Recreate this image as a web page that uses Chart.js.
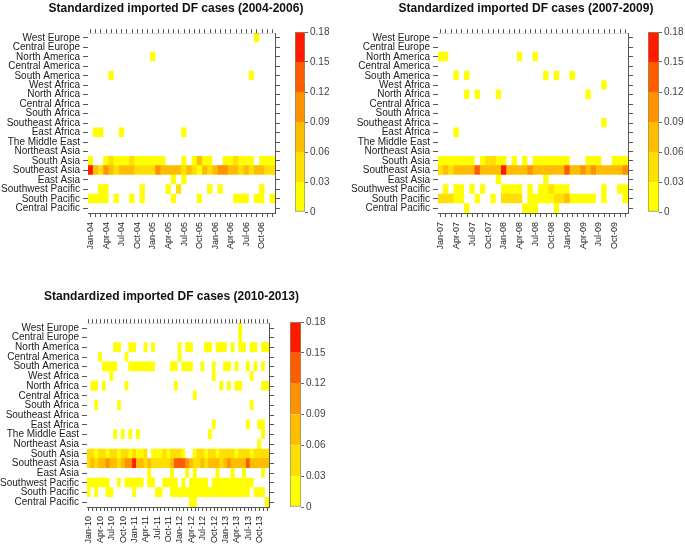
<!DOCTYPE html>
<html>
<head>
<meta charset="utf-8">
<script src="https://cdn.jsdelivr.net/npm/chart.js@4.4.1/dist/chart.umd.min.js"></script>
<style>
  html, body { margin: 0; padding: 0; background: #fff; width: 685px; height: 548px; overflow: hidden; }
  canvas { position: absolute; }
</style>
</head>
<body>
<canvas id="heat1" width="352" height="262" style="left:0px;top:0px"></canvas>
<canvas id="bar1" width="50" height="200" style="left:290px;top:22px"></canvas>
<canvas id="heat2" width="362" height="262" style="left:345px;top:0px"></canvas>
<canvas id="bar2" width="42" height="200" style="left:643px;top:22px"></canvas>
<canvas id="heat3" width="343" height="260" style="left:0px;top:288px"></canvas>
<canvas id="bar3" width="50" height="205" style="left:285px;top:312px"></canvas>
<script>
// rows, top to bottom as in the figure
const regions = ['West Europe', 'Central Europe', 'North America', 'Central America', 'South America',
  'West Africa', 'North Africa', 'Central Africa', 'South Africa', 'Southeast Africa', 'East Africa',
  'The Middle East', 'Northeast Asia', 'South Asia', 'Southeast Asia', 'East Asia',
  'Southwest Pacific', 'South Pacific', 'Central Pacific'];

const monthNames = ['Jan', 'Feb', 'Mar', 'Apr', 'May', 'Jun', 'Jul', 'Aug', 'Sep', 'Oct', 'Nov', 'Dec'];
const years1 = ['04', '05', '06'];
const years2 = ['07', '08', '09'];
const years3 = ['10', '11', '12', '13'];

const legendBreaks = [0, 0.03, 0.06, 0.09, 0.12, 0.15, 0.18];
const bandColors = ['#FFFF00', '#FFDF00', '#FFBD00', '#FF9200', '#FF5C00', '#FF1A00'];

// standardized imported cases 2004-2006 (36 months per row)
const cases0406 = [
  [0,0,0,0,0,0,0,0,0,0,0,0, 0,0,0,0,0,0,0,0,0,0,0,0, 0,0,0,0,0,0,0,0,.02,0,0,0],
  [0,0,0,0,0,0,0,0,0,0,0,0, 0,0,0,0,0,0,0,0,0,0,0,0, 0,0,0,0,0,0,0,0,0,0,0,0],
  [0,0,0,0,0,0,0,0,0,0,0,0, .02,0,0,0,0,0,0,0,0,0,0,0, 0,0,0,0,0,0,0,0,0,0,0,0],
  [0,0,0,0,0,0,0,0,0,0,0,0, 0,0,0,0,0,0,0,0,0,0,0,0, 0,0,0,0,0,0,0,0,0,0,0,0],
  [0,0,0,0,.02,0,0,0,0,0,0,0, 0,0,0,0,0,0,0,0,0,0,0,0, 0,0,0,0,0,0,0,.02,0,0,0,0],
  [0,0,0,0,0,0,0,0,0,0,0,0, 0,0,0,0,0,0,0,0,0,0,0,0, 0,0,0,0,0,0,0,0,0,0,0,0],
  [0,0,0,0,0,0,0,0,0,0,0,0, 0,0,0,0,0,0,0,0,0,0,0,0, 0,0,0,0,0,0,0,0,0,0,0,0],
  [0,0,0,0,0,0,0,0,0,0,0,0, 0,0,0,0,0,0,0,0,0,0,0,0, 0,0,0,0,0,0,0,0,0,0,0,0],
  [0,0,0,0,0,0,0,0,0,0,0,0, 0,0,0,0,0,0,0,0,0,0,0,0, 0,0,0,0,0,0,0,0,0,0,0,0],
  [0,0,0,0,0,0,0,0,0,0,0,0, 0,0,0,0,0,0,0,0,0,0,0,0, 0,0,0,0,0,0,0,0,0,0,0,0],
  [0,.02,.02,0,0,0,.02,0,0,0,0,0, 0,0,0,0,0,0,.02,0,0,0,0,0, 0,0,0,0,0,0,0,0,0,0,0,0],
  [0,0,0,0,0,0,0,0,0,0,0,0, 0,0,0,0,0,0,0,0,0,0,0,0, 0,0,0,0,0,0,0,0,0,0,0,0],
  [0,0,0,0,0,0,0,0,0,0,0,0, 0,0,0,0,0,0,0,0,0,0,0,0, 0,0,0,0,0,0,0,0,0,0,0,0],
  [.02,0,0,.02,.04,.02,.02,.03,.04,.02,.02,.03, .02,.02,.02,0,0,0,.02,0,.02,.07,.03,.02, 0,0,.02,.03,.04,.02,.03,.02,0,.02,.03,.02],
  [.17,.08,.06,.11,.07,.06,.07,.08,.07,.05,.06,.05, .06,.11,.09,.08,.08,.07,.06,.08,.05,.02,.07,.05, .08,.12,.10,.07,.09,.06,.08,.05,.07,.09,.05,.06],
  [0,0,0,0,0,0,0,0,0,0,0,0, 0,0,0,0,.02,0,.02,0,0,0,0,0, 0,0,0,0,0,0,0,0,0,0,0,0],
  [0,0,.02,.02,0,0,0,0,0,0,.02,0, 0,0,0,.02,0,.04,0,0,0,0,0,.02, 0,.02,0,0,0,0,0,0,0,.02,0,0],
  [.02,.02,.02,.02,0,.02,0,0,.02,0,.02,0, 0,0,0,0,.02,0,0,0,0,.02,0,0, 0,0,0,0,.02,.02,.02,0,.02,.02,0,.02],
  [0,0,0,0,0,0,0,0,0,0,0,0, 0,0,0,0,0,0,0,0,0,0,0,0, 0,0,0,0,0,0,0,0,0,0,0,0]
];

// 2007-2009 (36 months per row)
const cases0709 = [
  [0,0,0,0,0,0,0,0,0,0,0,0, 0,0,0,0,0,0,0,0,0,0,0,0, 0,0,0,0,0,0,0,0,0,0,0,0],
  [0,0,0,0,0,0,0,0,0,0,0,0, 0,0,0,0,0,0,0,0,0,0,0,0, 0,0,0,0,0,0,0,0,0,0,0,0],
  [.02,.02,0,0,0,0,0,0,0,0,0,0, 0,0,0,.02,0,0,.02,0,0,0,0,0, 0,0,0,0,0,0,0,0,0,0,0,0],
  [0,0,0,0,0,0,0,0,0,0,0,0, 0,0,0,0,0,0,0,0,0,0,0,0, 0,0,0,0,0,0,0,0,0,0,0,0],
  [0,0,0,.02,0,.02,0,0,0,0,0,0, 0,0,0,0,0,0,0,0,.02,0,.02,0, 0,.02,0,0,0,0,0,0,0,0,0,0],
  [0,0,0,0,0,0,0,0,0,0,0,0, 0,0,0,0,0,0,0,0,0,0,0,0, 0,0,0,0,0,0,0,.02,0,0,0,0],
  [0,0,0,0,0,.02,0,.02,0,0,0,.02, 0,0,0,0,0,0,0,0,0,0,0,0, 0,0,0,0,.02,0,0,0,0,0,0,0],
  [0,0,0,0,0,0,0,0,0,0,0,0, 0,0,0,0,0,0,0,0,0,0,0,0, 0,0,0,0,0,0,0,0,0,0,0,0],
  [0,0,0,0,0,0,0,0,0,0,0,0, 0,0,0,0,0,0,0,0,0,0,0,0, 0,0,0,0,0,0,0,0,0,0,0,0],
  [0,0,0,0,0,0,0,0,0,0,0,0, 0,0,0,0,0,0,0,0,0,0,0,0, 0,0,0,0,0,0,0,.02,0,0,0,0],
  [0,0,0,.02,0,0,0,0,0,0,0,0, 0,0,0,0,0,0,0,0,0,0,0,0, 0,0,0,0,0,0,0,0,0,0,0,0],
  [0,0,0,0,0,0,0,0,0,0,0,0, 0,0,0,0,0,0,0,0,0,0,0,0, 0,0,0,0,0,0,0,0,0,0,0,0],
  [0,0,0,0,0,0,0,0,0,0,0,0, 0,0,0,0,0,0,0,0,0,0,0,0, 0,0,0,0,0,0,0,0,0,0,0,0],
  [.03,.02,.02,.03,.02,.02,.02,0,.03,.04,.05,.03, .02,0,.02,0,.02,0,.02,.02,.03,.02,.02,.03, .02,0,0,0,.02,.03,.02,0,0,.02,.03,.02],
  [.06,.07,.06,.08,.07,.08,.09,.15,.07,.08,.09,.07, .17,.08,.07,.09,.08,.10,.07,.08,.07,.08,.09,.08, .13,.08,.09,.11,.08,.10,.08,.09,.07,.08,.09,.10],
  [0,0,0,0,0,0,0,0,0,0,0,.02, 0,0,0,0,0,0,0,0,.02,0,0,0, 0,0,0,0,0,0,0,0,0,0,0,0],
  [0,.02,0,.02,.02,0,.02,0,.02,0,0,0, .03,.03,.03,.03,0,.02,0,.02,.02,.04,.02,.02, .02,0,0,0,0,0,0,.02,0,0,.02,.02],
  [.05,.05,.05,.02,.02,0,0,.02,0,0,.02,0, .04,.04,.04,.04,0,.02,.02,.02,.02,.02,.04,.05, .07,.02,.03,.02,.02,.02,0,.02,0,0,0,.02],
  [0,0,0,0,0,.02,0,0,0,0,0,0, 0,0,0,0,.02,.02,.02,0,0,0,.02,0, 0,0,0,0,0,0,0,0,0,0,0,0]
];

// 2010-2013 (48 months per row)
const cases1013 = [
  [0,0,0,0,0,0,0,0,0,0,0,0, 0,0,0,0,0,0,0,0,0,0,0,0, 0,0,0,0,0,0,0,0,0,0,0,0, 0,0,0,0,.02,0,0,0,0,0,0,0],
  [0,0,0,0,0,0,0,0,0,0,0,0, 0,0,0,0,0,0,0,0,0,0,0,0, 0,0,0,0,0,0,0,0,0,0,0,0, 0,0,0,0,.02,0,0,0,0,0,0,0],
  [0,0,0,0,0,0,0,.02,.02,0,0,.02, .02,0,0,.02,0,.02,0,0,0,0,0,0, .02,0,.02,.02,0,0,0,.02,.02,0,.02,.02, .02,0,.02,0,.02,.02,0,.02,.02,0,.02,.02],
  [0,0,0,.02,0,0,0,0,0,0,.02,0, 0,0,0,0,0,0,0,0,0,0,0,0, .02,0,0,0,0,0,0,0,0,0,0,0, 0,0,0,0,0,0,0,0,0,0,0,0],
  [0,0,0,0,.02,.02,.02,.02,0,0,0,.02, .02,.02,.02,.02,.02,.02,0,0,0,0,.02,.02, 0,.02,.02,.02,0,0,.02,0,0,.02,0,0, .02,.02,0,.02,0,0,.02,0,.02,0,.02,0],
  [0,0,0,0,0,0,.02,0,0,0,0,0, 0,0,0,0,0,0,0,0,0,0,0,0, 0,0,0,0,0,0,0,0,0,.02,0,0, 0,0,0,0,0,0,0,.02,0,0,0,0],
  [0,.02,.02,0,.02,0,0,0,0,0,.02,0, 0,0,0,0,0,0,0,0,0,0,0,.02, 0,0,0,0,0,0,0,0,0,0,0,.02, 0,.02,0,.02,.02,0,0,0,0,0,.02,.02],
  [0,0,0,0,0,0,0,0,0,0,0,0, 0,0,0,0,0,0,0,0,0,0,0,0, 0,0,0,0,.02,0,0,0,0,0,0,0, 0,0,0,0,0,0,0,0,0,0,0,0],
  [0,0,.02,0,0,0,0,0,.02,0,0,0, 0,0,0,0,0,0,0,0,0,0,0,0, 0,0,0,0,0,0,0,0,0,0,0,0, 0,0,0,0,0,0,0,.02,0,0,0,0],
  [0,0,0,0,0,0,0,0,0,0,0,0, 0,0,0,0,0,0,0,0,0,0,0,0, 0,0,0,0,0,0,0,0,0,0,0,0, 0,0,0,0,0,0,0,0,0,0,0,0],
  [0,0,0,0,0,0,0,0,0,0,0,0, 0,0,0,0,0,0,0,0,0,0,0,0, 0,0,0,0,0,0,0,0,0,.02,0,0, 0,0,0,0,0,0,.02,0,0,.02,.02,0],
  [0,0,0,0,0,0,0,.02,0,.02,0,.02, 0,.02,0,0,0,0,0,0,0,0,0,0, 0,0,0,0,0,0,0,0,.02,0,0,0, 0,0,0,0,0,0,0,0,0,0,.02,0],
  [0,0,0,0,0,0,0,0,0,0,0,0, 0,0,0,0,0,0,0,0,0,0,0,0, 0,0,0,0,0,0,0,0,0,0,0,0, 0,0,0,0,0,0,0,0,0,.02,0,0],
  [.04,.04,.03,.04,.04,.03,.04,.04,.03,.04,.04,.03, .04,.03,.03,.04,0,.02,.03,.03,.04,.03,.04,.04, .04,.03,0,0,.03,.04,.04,.03,.04,.04,.03,.04, .04,.04,.04,.03,.04,.04,.04,.03,.04,.04,.04,.04],
  [.06,.07,.06,.08,.09,.10,.09,.07,.06,.08,.10,.12, .17,.08,.07,.06,.07,.06,.05,.06,.05,.06,.07,.13, .15,.13,.12,.08,.05,.06,.07,.06,.08,.07,.09,.06, .07,.10,.08,.09,.07,.08,.14,.09,.08,.07,.08,.07],
  [0,0,0,0,0,0,0,0,0,0,0,0, 0,0,0,0,.02,0,0,0,0,0,.02,0, 0,0,.02,0,.02,0,0,0,0,0,.02,0, 0,0,.02,0,0,.02,0,0,0,0,.02,0],
  [.02,.02,.02,.02,.02,.02,0,0,.02,0,.02,.02, .02,.02,.02,0,.02,.02,0,0,.02,.02,.02,.02, 0,.02,0,.02,.02,.02,.02,.02,0,.02,.02,.02, .02,.02,.02,.02,.02,.02,.02,.02,0,0,0,0],
  [.02,0,.02,0,0,.02,.02,0,0,0,0,0, .02,0,0,0,0,0,.02,.02,0,0,.02,.02, .02,.02,.02,.02,.02,.02,.02,.02,.02,.02,.02,.02, .02,.02,.02,.02,.02,.02,.02,0,.02,.02,.02,0],
  [0,0,0,0,0,0,0,0,0,0,0,0, 0,0,0,0,0,0,0,0,0,0,0,0, 0,0,0,.02,.02,0,0,0,0,0,0,0, 0,0,0,0,0,0,0,0,0,0,0,.02]
];

const fontFamily = "'Liberation Sans', Arial, sans-serif";
const axisColor = '#555';

function monthLabels(years) {
  const out = [];
  years.forEach(y => monthNames.forEach(m => out.push(m + '-' + y)));
  return out;
}

function cellColor(v) {
  if (!v) return '#ffffff';
  for (let i = 1; i < legendBreaks.length; i++) {
    if (v <= legendBreaks[i]) return bandColors[i - 1];
  }
  return bandColors[bandColors.length - 1];
}

function heatmap(id, title, labels, rows, box) {
  const bottomUp = regions.slice().reverse();
  const rowTicks = s => { s.ticks = bottomUp.map((r, i) => ({ value: i + 0.5 })); };
  // one stacked dataset per region, every cell one unit tall
  const datasets = rows.slice().reverse().map((row, i) => ({
    label: bottomUp[i],
    data: row.map(() => 1),
    backgroundColor: row.map(cellColor),
    borderWidth: 0,
    barPercentage: 1,
    categoryPercentage: 1
  }));
  const tickGrid = len => ({ drawOnChartArea: false, drawTicks: true, tickLength: len, color: axisColor, offset: false });

  new Chart(document.getElementById(id), {
    type: 'bar',
    data: { labels: labels, datasets: datasets },
    options: {
      responsive: false,
      animation: false,
      layout: { padding: 0 },
      plugins: {
        legend: { display: false },
        tooltip: { enabled: false },
        title: {
          display: true,
          text: title,
          color: '#111',
          font: { family: fontFamily, size: 12, weight: 'bold' },
          padding: { top: 1, bottom: 0 }
        }
      },
      scales: {
        x: {
          stacked: true,
          offset: true,
          grid: tickGrid(4),
          border: { color: axisColor },
          ticks: {
            autoSkip: false, maxRotation: 90, minRotation: 90, padding: 5,
            color: '#222', font: { family: fontFamily, size: 9 },
            callback: (v, i) => i % 3 === 0 ? labels[i] : ''
          },
          afterFit: s => { s.height = box.bottom; }
        },
        x2: {
          type: 'category',
          position: 'top',
          offset: true,
          grid: tickGrid(4),
          border: { color: axisColor },
          ticks: { display: false },
          afterFit: s => { s.height = box.top; }
        },
        y: {
          stacked: true,
          min: 0, max: regions.length,
          grid: tickGrid(5),
          border: { color: axisColor },
          ticks: {
            autoSkip: false,
            color: '#222', padding: 3, font: { family: fontFamily, size: 10 },
            callback: v => bottomUp[Math.floor(v)]
          },
          afterBuildTicks: rowTicks,
          afterFit: s => { s.width = box.left; }
        },
        y2: {
          type: 'linear',
          position: 'right',
          min: 0, max: regions.length,
          grid: tickGrid(5),
          border: { color: axisColor },
          ticks: { display: false, autoSkip: false },
          afterBuildTicks: rowTicks,
          afterFit: s => { s.width = box.right; }
        }
      }
    }
  });
}

function colorbar(id, axisWidth) {
  const n = bandColors.length;
  new Chart(document.getElementById(id), {
    type: 'bar',
    data: {
      labels: [''],
      datasets: bandColors.map((c, i) => ({
        data: [legendBreaks[i + 1] - legendBreaks[i]],
        backgroundColor: c,
        borderColor: '#8f8f66',
        borderWidth: { left: 1, right: 1, top: i === n - 1 ? 1 : 0, bottom: i === 0 ? 1 : 0 },
        borderSkipped: false,
        barPercentage: 1,
        categoryPercentage: 1
      }))
    },
    options: {
      responsive: false,
      animation: false,
      layout: { padding: { left: 5, top: 10, bottom: 10, right: 0 } },
      plugins: { legend: { display: false }, tooltip: { enabled: false } },
      scales: {
        x: { display: false, stacked: true },
        y: {
          stacked: true,
          position: 'right',
          min: 0, max: legendBreaks[legendBreaks.length - 1],
          grid: { drawOnChartArea: false, tickLength: 3, color: '#666' },
          border: { display: false },
          ticks: {
            autoSkip: false,
            color: '#444', padding: 2, font: { family: fontFamily, size: 10 },
            callback: v => String(+v.toFixed(2))
          },
          afterBuildTicks: s => { s.ticks = legendBreaks.map(v => ({ value: v })); },
          afterFit: s => { s.width = axisWidth; }
        }
      }
    }
  });
}

heatmap('heat1', 'Standardized imported DF cases (2004-2006)', monthLabels(years1), cases0406,
  { left: 88, right: 77, top: 17.8, bottom: 49 });
heatmap('heat2', 'Standardized imported DF cases (2007-2009)', monthLabels(years2), cases0709,
  { left: 93, right: 79, top: 17.8, bottom: 49 });
heatmap('heat3', 'Standardized imported DF cases (2010-2013)', monthLabels(years3), cases1013,
  { left: 87, right: 74, top: 19.8, bottom: 41 });

colorbar('bar1', 35);
colorbar('bar2', 26);
colorbar('bar3', 34);
</script>
</body>
</html>
